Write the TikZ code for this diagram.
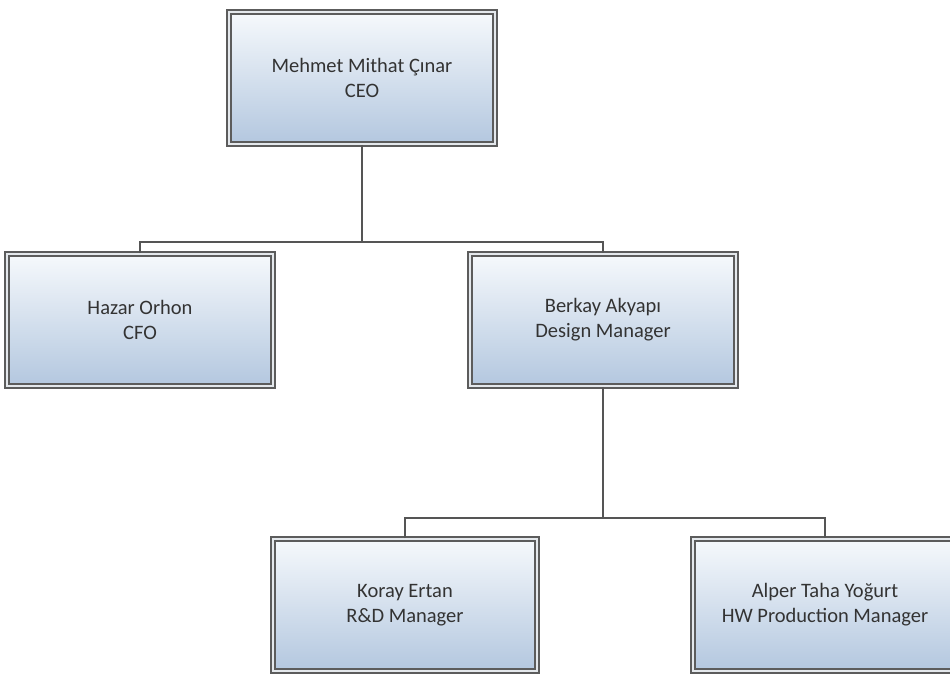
\documentclass[tikz,border=0pt]{standalone}
\usepackage{fontspec}
\setmainfont{Carlito}
\definecolor{boxline}{HTML}{5C5C5C}
\definecolor{boxgap}{HTML}{E4E8EC}
\definecolor{boxtop}{HTML}{F6F9FC}
\definecolor{boxbot}{HTML}{B3C7DF}
\definecolor{txt}{HTML}{333333}
\definecolor{conn}{HTML}{555555}
\tikzset{
  orgbox/.style={minimum width=266pt, minimum height=132pt, inner sep=0pt,
    top color=boxtop, bottom color=boxbot, draw=boxline, line width=1.9pt,
    double=boxgap, double distance=1.3pt, align=center, text=txt,
    font=\fontsize{20.5}{25}\selectfont},
  link/.style={draw=conn, line width=2.2pt}
}
\begin{document}
\begin{tikzpicture}[x=1pt,y=-1pt]
\useasboundingbox (0,0) rectangle (950,673);
\fill[white] (0,0) rectangle (950,673);
\node[orgbox] (ceo) at (362,78) {Mehmet Mithat Çınar\\CEO};
\node[orgbox] (cfo) at (140,320) {Hazar Orhon\\CFO};
\node[orgbox] (ber) at (603,320) {Berkay Akyapı\\Design Manager};
\node[orgbox, minimum width=264pt] (kor) at (405,605) {Koray Ertan\\R\&D Manager};
\node[orgbox, minimum width=264pt] (alp) at (825,605) {Alper Taha Yoğurt\\HW Production Manager};
\coordinate (j1) at (362,242);
\coordinate (j2) at (603,518);
\draw[link] (ceo.south) -- (j1);
\draw[link] (cfo.north) |- (j1) -| (ber.north);
\draw[link] (ber.south) -- (j2);
\draw[link] (kor.north) |- (j2) -| (alp.north);
\end{tikzpicture}
\end{document}
